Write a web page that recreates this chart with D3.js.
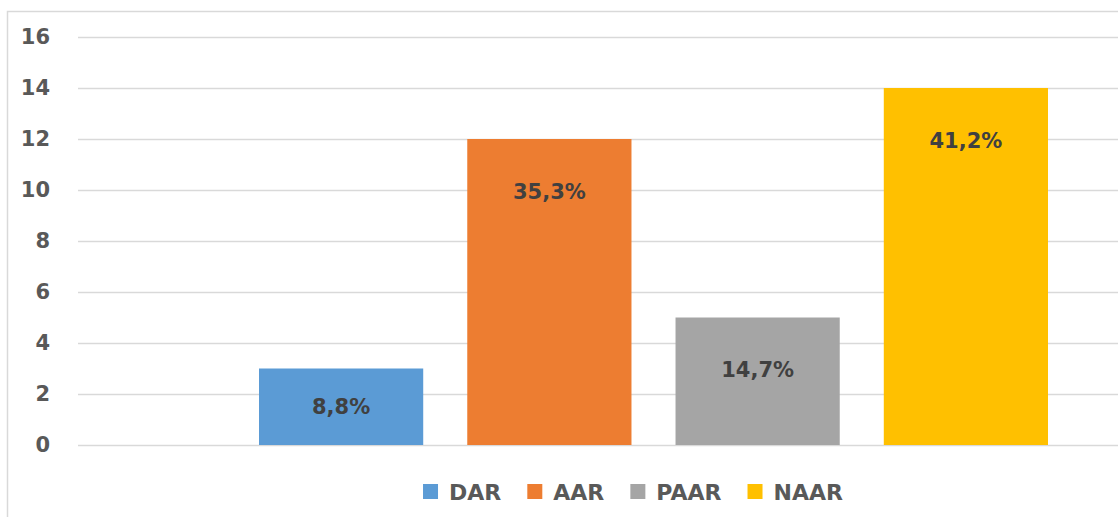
<!DOCTYPE html>
<html><head><meta charset="utf-8">
<script src="https://cdn.jsdelivr.net/npm/d3@7"></script>
<style>body{margin:0;background:#fff}svg{display:block}</style>
</head><body>
<svg id="chart" width="1118" height="517"></svg>
<script>
const series = ["DAR", "AAR", "PAAR", "NAAR"];
const values = [3, 12, 5, 14];
const pctLabels = ["8,8%", "35,3%", "14,7%", "41,2%"];
const colors = ["#5b9bd5", "#ed7d31", "#a5a5a5", "#ffc000"];
const yTicks = [0, 2, 4, 6, 8, 10, 12, 14, 16];

const svg = d3.select("#chart");
const W = 1118, H = 517;
const font = "'DejaVu Sans', sans-serif";

// chart border (left/top visible)
svg.append("rect").attr("x", 7.5).attr("y", 11.5).attr("width", W).attr("height", H)
  .attr("fill", "none").attr("stroke", "#d9d9d9").attr("stroke-width", 1.5);

const y = d3.scaleLinear().domain([0, 16]).range([445, 37]);
const x = d3.scaleBand().domain(series).range([259, 1048]).paddingInner(0.2115).paddingOuter(0);

// gridlines
svg.append("g").selectAll("line").data(yTicks).join("line")
  .attr("x1", 78).attr("x2", W)
  .attr("y1", d => Math.round(y(d)) + 0.5).attr("y2", d => Math.round(y(d)) + 0.5)
  .attr("stroke", "#d9d9d9").attr("stroke-width", 1.5);

// y axis labels
const yAxis = d3.axisLeft(y).tickValues(yTicks).tickSize(0).tickPadding(0);
const ga = svg.append("g").attr("transform", "translate(50,0)").call(yAxis);
ga.select(".domain").remove();
ga.selectAll("text").attr("font-family", font).attr("font-weight", "bold")
  .attr("font-size", 21).attr("fill", "#595959");

// bars
svg.append("g").selectAll("rect").data(series).join("rect")
  .attr("x", d => x(d)).attr("width", x.bandwidth())
  .attr("y", (d, i) => y(values[i])).attr("height", (d, i) => y(0) - y(values[i]))
  .attr("fill", (d, i) => colors[i]);

// labels
svg.append("g").selectAll("text").data(series).join("text")
  .attr("x", d => x(d) + x.bandwidth() / 2)
  .attr("y", (d, i) => Math.min(y(values[i]) + 52, (y(values[i]) + y(0)) / 2))
  .attr("dy", "0.36em")
  .attr("text-anchor", "middle")
  .attr("font-family", font).attr("font-weight", "bold").attr("font-size", 21)
  .attr("fill", "#404040")
  .text((d, i) => pctLabels[i]);

// legend
const leg = svg.append("g");
const items = leg.selectAll("g").data(series).join("g");
items.append("rect").attr("width", 15).attr("height", 15).attr("y", -8)
  .attr("fill", (d, i) => colors[i]);
items.append("text").attr("x", 26).attr("dy", "0.36em")
  .attr("font-family", font).attr("font-weight", "bold").attr("font-size", 22)
  .attr("fill", "#595959").text(d => d);
let cx = 0;
items.each(function () {
  const g = d3.select(this);
  g.attr("transform", `translate(${cx},0)`);
  const w = this.getBBox().width;
  cx += w + 26;
});
const totalW = cx - 26;
leg.attr("transform", `translate(${633 - totalW / 2},492)`);
</script>
</body></html>
